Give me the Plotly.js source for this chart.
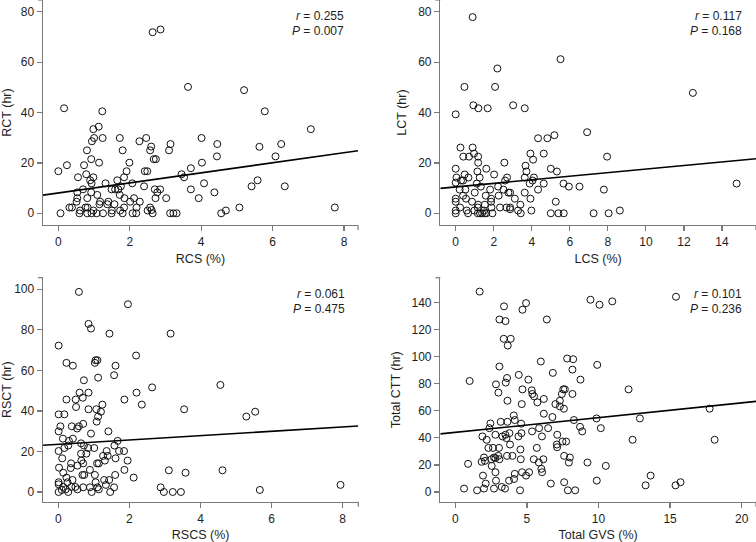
<!DOCTYPE html>
<html>
<head>
<meta charset="utf-8">
<script src="https://cdn.plot.ly/plotly-3.0.1.min.js"></script>
<style>html,body{margin:0;padding:0;background:#fff;}#chart{width:756px;height:542px;}</style>
</head>
<body>
<div id="chart"></div>
<script>
// ---- Panel 1: RCS (%) vs RCT (hr)
const rcs = [
2.86,2.64,3.63,5.20,5.78,0.16,1.23,7.07,0.98,1.13,
0.94,1.00,1.24,1.72,2.46,2.27,4.01,3.14,4.45,6.24,
2.60,5.63,3.10,2.57,1.80,0.80,4.44,6.08,0.92,2.67,
2.73,0.00,0.24,0.72,1.14,1.99,4.02,3.71,2.42,2.49,
1.91,0.78,3.45,3.52,0.55,0.98,1.84,0.89,1.65,5.58,
0.93,1.32,2.07,4.08,5.41,6.34,2.40,1.75,1.68,1.49,
1.59,0.69,2.70,2.85,3.71,0.92,0.53,2.77,4.37,1.72,
1.09,0.53,0.81,1.85,2.12,2.72,3.02,3.93,0.51,1.17,
1.40,2.01,2.28,1.15,1.57,1.37,0.31,0.38,0.76,2.19,
5.07,7.74,0.82,2.57,1.84,0.61,0.98,1.50,2.50,4.69,
1.73,0.06,0.59,0.81,1.07,1.25,1.49,1.80,2.08,2.18,
2.64,3.13,3.22,3.31,4.56,0.93,2.61];
const rct = [
73.0,71.9,50.2,48.9,40.5,41.7,40.5,33.4,33.4,34.4,
28.6,29.9,29.9,29.9,29.9,28.6,29.9,27.5,27.5,27.5,
26.5,26.4,25.0,25.0,25.0,25.0,22.6,22.6,21.5,21.5,
21.5,16.7,19.1,19.1,20.1,20.1,20.1,17.9,16.7,16.7,
16.7,15.5,15.5,14.3,14.3,14.3,14.3,13.1,13.1,13.1,
11.9,11.9,11.9,11.9,10.7,10.7,10.7,10.7,9.5,9.5,
9.5,9.5,9.5,9.5,9.5,8.3,8.3,8.3,8.3,7.3,
7.3,6.0,6.0,6.0,6.0,6.0,6.0,6.0,4.6,4.6,
4.6,4.6,4.6,3.6,3.6,3.6,2.3,2.3,2.3,2.3,
2.3,2.3,2.3,2.3,2.3,1.1,1.1,1.1,1.1,1.1,
1.1,0,0,0,0,0,0,0,0,0,
0,0,0,0,0,0,1.3];

// ---- Panel 2: LCS (%) vs LCT (hr)
const lcs = [
0.89,5.51,2.19,12.47,0.46,2.07,0,0.93,1.19,1.68,
3.02,3.63,6.91,5.19,4.33,4.82,0.25,0.89,0.96,3.93,
4.63,0.40,0.70,1.18,7.96,4.07,1.18,2.56,3.67,0,
1.61,5.0,3.72,1.14,5.32,0.47,2.02,0.04,0.67,1.26,
2.70,3.63,4.11,0.28,0.39,2.60,4.04,0,1.11,3.89,
4.63,5.67,14.77,5.95,6.51,1.32,2.23,0.21,0.51,1.81,
2.51,4.33,7.79,1.0,2.77,3.63,2.86,0.39,1.58,2.26,
0.54,0,1.86,3.11,3.93,0,0.86,1.86,5.26,1.18,
1.53,3.40,0.23,1.16,1.88,2.33,2.67,2.86,2.86,0,
0.58,0.98,1.49,3.28,3.98,8.63,0,0.65,1.16,1.39,
1.61,1.93,3.42,5.0,5.40,5.68,7.25,8.04,1.28,1.53];
const lct = [
77.9,61.2,57.5,47.8,50.2,50.2,39.3,42.9,41.7,41.7,
42.9,41.7,32.2,31.0,29.8,29.8,26.1,26.1,23.7,23.7,
23.7,22.5,22.5,22.5,22.5,21.3,20.1,20.1,18.9,17.7,
17.7,17.7,16.6,16.6,16.6,15.4,15.4,14.2,14.2,14.2,
14.2,14.2,14.2,13.0,13.0,13.0,13.0,12.2,11.8,11.8,
11.8,11.8,11.8,10.6,10.6,10.6,10.6,9.4,9.4,9.4,
9.4,9.4,9.4,8.2,8.2,8.2,8.2,7.0,7.0,7.0,
5.8,5.8,5.8,5.8,5.8,4.6,4.6,4.6,4.6,3.4,
3.4,3.4,2.3,2.3,2.3,2.3,2.3,2.3,1.6,1.1,
1.1,1.1,1.1,1.1,1.1,1.1,0,0,0,0,
0,0,0,0,0,0,0,0,0,0];

// ---- Panel 3: RSCS (%) vs RSCT (hr)
const rscs = [
0.58,1.96,0.85,0.92,1.44,3.16,0.01,2.19,1.05,1.10,
1.03,0.23,0.41,1.61,1.57,1.12,0.72,4.56,2.64,0.60,
0.85,2.20,0.69,0.23,0.49,1.86,1.24,2.35,0.50,0.85,
1.07,3.54,1.20,5.54,0.01,0.17,1.12,5.29,1.08,0.70,
0.06,0.38,0.58,0.53,0.01,1.41,0.92,0.13,0.41,0.30,
1.67,0.64,0.28,1.58,0.72,0.17,1.01,0.84,0.01,1.36,
1.85,1.71,0.64,0.79,1.26,1.39,0.11,1.61,0.65,1.31,
1.95,0.70,0.36,1.09,1.14,0.02,0.54,0.35,0.89,1.86,
3.11,4.62,0.14,3.58,0.73,1.03,1.60,0.68,2.12,0.23,
0.40,1.29,1.43,0.01,0.26,1.05,0.01,7.94,1.34,0.37,
0.14,0.48,0.70,0.89,1.10,1.57,2.88,0.21,5.67,0.54,
1.14,0.01,0.28,0.94,1.46,2.97,3.22,3.45,0.10];
const rsct = [
98.7,92.6,82.9,80.6,78.1,78.1,72.2,67.3,65.0,65.0,
63.7,63.7,62.3,62.3,57.6,56.4,55.1,52.8,51.6,49.0,
49.0,49.0,46.5,45.6,45.6,45.6,43.1,43.1,41.9,40.8,
40.8,40.8,39.6,39.6,38.3,38.3,37.2,37.2,34.7,33.6,
32.4,32.4,32.4,31.3,29.9,29.9,28.8,26.3,26.3,25.2,
25.2,24.0,22.9,22.9,22.9,21.7,21.7,21.7,20.2,20.2,
20.2,20.2,18.9,18.9,17.8,17.8,16.6,16.6,15.5,15.5,
15.5,14.1,14.1,14.1,14.1,12.0,13.0,11.8,10.9,10.9,
10.7,10.7,9.5,9.5,8.4,8.4,8.4,8.4,7.1,7.1,
5.9,5.9,5.9,4.8,4.8,4.8,3.8,3.5,3.5,2.5,
2.5,2.5,2.3,2.3,2.3,2.3,2.3,1.3,1.0,1.3,
1.3,0,0,0,0,0,0,0,1.0];

// ---- Panel 4: Total GVS (%) vs Total CTT (hr)
const gvs = [
1.70,15.41,9.44,10.96,4.94,10.07,3.40,4.69,3.08,3.50,
6.39,3.38,3.87,3.66,7.81,8.23,5.97,9.91,3.08,8.18,
6.81,4.43,3.61,5.10,8.74,1.00,3.52,2.84,4.69,5.34,
7.54,7.65,12.1,5.38,5.50,7.44,8.18,3.01,6.18,7.30,
3.64,5.73,6.99,4.64,7.30,7.58,17.76,6.18,4.08,6.78,
12.89,9.86,4.15,8.28,3.17,3.64,2.45,4.60,2.38,5.85,
6.48,10.16,8.71,8.86,5.36,4.62,3.78,3.50,2.80,7.12,
1.89,3.29,6.05,4.41,3.57,2.19,12.38,18.11,7.48,7.74,
3.82,7.09,7.11,5.69,2.31,2.63,3.05,4.55,3.99,3.61,
3.00,7.60,8.00,2.00,2.70,2.52,2.80,3.08,4.57,5.48,
6.15,1.84,2.07,5.83,7.93,9.23,0.89,2.54,10.51,6.01,
2.80,4.66,6.06,5.15,4.15,4.94,1.93,13.64,4.10,2.84,
3.75,9.88,7.60,15.73,2.12,6.67,13.29,15.38,3.24,3.47,
0.61,2.00,2.70,1.52,4.52,7.86,8.37];
const ctt = [
148.2,144.4,142.2,141.0,139.7,138.5,137.3,134.8,127.6,126.4,
127.6,113.3,113.3,108.3,98.7,98.2,96.5,94.0,92.8,90.5,
88.1,86.6,84.3,83.1,83.1,82.1,80.9,79.6,75.9,75.2,
75.9,75.9,75.9,72.5,70.7,72.5,72.5,73.5,68.8,67.5,
67.5,66.3,65.0,65.0,63.3,61.6,61.6,57.9,56.6,55.4,
54.4,54.4,53.2,53.2,51.9,51.9,50.7,50.5,47.2,47.2,
47.2,47.2,48.2,44.8,44.8,43.5,43.5,42.3,42.3,42.3,
41.1,41.1,41.1,41.1,39.8,38.6,38.6,38.6,37.3,37.3,
35.1,35.1,33.1,32.6,32.6,32.6,32.6,31.4,26.7,26.7,
26.7,26.7,25.5,25.5,25.5,24.2,25.0,24.2,24.2,24.2,
24.2,22.3,23.0,21.8,21.8,21.8,20.8,19.3,19.3,17.1,
14.6,14.6,14.6,14.6,13.4,12.1,12.1,12.1,9.6,8.4,
8.4,8.4,7.2,7.2,6.2,6.2,4.9,4.9,3.7,2.5,
2.5,2.5,2.5,1.2,1.2,1.2,1.2];

// ---- Labels, statistics and fitted lines
const xTitles = ["RCS (%)", "LCS (%)", "RSCS (%)", "Total GVS (%)"];
const yTitles = ["RCT (hr)", "LCT (hr)", "RSCT (hr)", "Total CTT (hr)"];
const rValues = ["0.255", "0.117", "0.061", "0.101"];
const pValues = ["0.007", "0.168", "0.475", "0.236"];
const fitIntercepts = [8.06, 10.45, 23.5, 44.1];
const fitSlopes = [2.0, 0.71, 1.07, 1.09];

const xs = [rcs, lcs, rscs, gvs];
const ys = [rct, lct, rsct, ctt];

// layout geometry (pixel based)
const W = 756, H = 542;
const boxes = [ // [left, right, top, bottom] in px
  [43, 358, 0, 225],
  [440.3, 756, 0, 225],
  [43, 358.3, 277.7, 501.7],
  [440.3, 756, 277.7, 501.7]
];
const xRanges = [[-0.43, 8.39], [-0.81, 15.79], [-0.43, 8.44], [-1.05, 21.0]];
const yRanges = [[-4.65, 84.7], [-4.65, 84.7], [-4.79, 105.7], [-7.2, 158.5]];
const xDticks = [2, 2, 2, 5];
const yDticks = [20, 20, 20, 20];
const statPos = [[346, 16, 31], [743.7, 16, 31], [346.7, 294.3, 308.7], [744, 294.3, 308.7]];

const FONT = "Liberation Sans, Arial, sans-serif";
const AX = "#7a7a7a";
const TXT = "#1e1e1e";

const traces = [];
const layout = {
  width: W, height: H,
  margin: {l: 0, r: 0, t: 0, b: 0},
  paper_bgcolor: "#fff", plot_bgcolor: "#fff",
  showlegend: false,
  font: {family: FONT, size: 12, color: TXT},
  annotations: [], shapes: []
};

for (let i = 0; i < 4; i++) {
  const sfx = i === 0 ? "" : String(i + 1);
  const xa = "x" + sfx, ya = "y" + sfx;
  const b = boxes[i];
  traces.push({
    type: "scatter", mode: "markers", x: xs[i], y: ys[i], xaxis: xa, yaxis: ya,
    marker: {symbol: "circle-open", size: 7, color: "#111", line: {width: 1, color: "#111"}},
    cliponaxis: false, hoverinfo: "skip"
  });
  const xr = xRanges[i];
  traces.push({
    type: "scatter", mode: "lines", xaxis: xa, yaxis: ya,
    x: [xr[0], xr[1]],
    y: [fitIntercepts[i] + fitSlopes[i] * xr[0], fitIntercepts[i] + fitSlopes[i] * xr[1]],
    line: {color: "#000", width: 1.6}, hoverinfo: "skip"
  });
  const common = {
    showline: true, linecolor: AX, linewidth: 1.4, mirror: false,
    ticks: "outside", ticklen: 5, tickwidth: 1.2, tickcolor: AX,
    showgrid: false, zeroline: false, tickfont: {family: FONT, size: 12, color: TXT},
    automargin: false, fixedrange: true
  };
  layout["xaxis" + sfx] = Object.assign({}, common, {
    domain: [b[0] / W, b[1] / W], range: xRanges[i], dtick: xDticks[i], tick0: 0,
    anchor: ya,
    title: {text: xTitles[i], font: {family: FONT, size: 12.5, color: TXT}, standoff: 6}
  });
  layout["yaxis" + sfx] = Object.assign({}, common, {
    domain: [(H - b[3]) / H, (H - b[2]) / H], range: yRanges[i], dtick: yDticks[i], tick0: 0,
    anchor: xa,
    title: {text: yTitles[i], font: {family: FONT, size: 12.5, color: TXT}, standoff: 8}
  });
  // end ticks of the axes
  const pw = b[1] - b[0], ph = b[3] - b[2];
  layout.shapes.push({type: "line", xref: xa + " domain", yref: ya + " domain",
    x0: 1, x1: 1, y0: 0, y1: -5 / ph, line: {color: AX, width: 1.2}});
  layout.shapes.push({type: "line", xref: xa + " domain", yref: ya + " domain",
    x0: 0, x1: -5 / pw, y0: 1, y1: 1, line: {color: AX, width: 1.2}});
  // statistics
  const sp = statPos[i];
  layout.annotations.push({xref: "paper", yref: "paper", x: sp[0] / W, y: (H - sp[1]) / H,
    xanchor: "right", yanchor: "middle", showarrow: false,
    text: "<i>r</i> = " + rValues[i], font: {family: FONT, size: 12, color: TXT}});
  layout.annotations.push({xref: "paper", yref: "paper", x: sp[0] / W, y: (H - sp[2]) / H,
    xanchor: "right", yanchor: "middle", showarrow: false,
    text: "<i>P</i> = " + pValues[i], font: {family: FONT, size: 12, color: TXT}});
}

Plotly.newPlot("chart", traces, layout, {displayModeBar: false, staticPlot: true});
</script>
</body>
</html>
